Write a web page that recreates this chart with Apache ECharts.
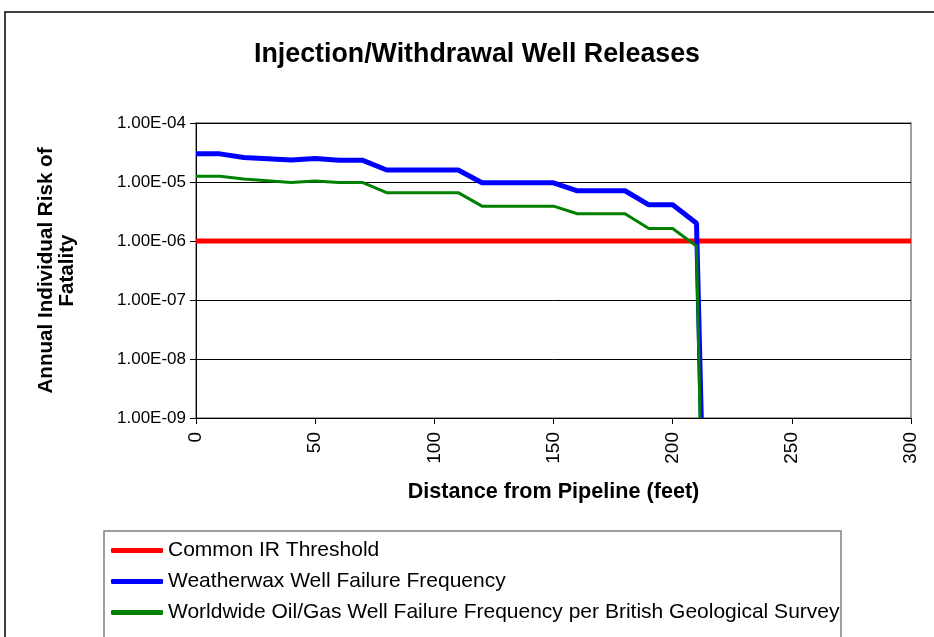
<!DOCTYPE html>
<html>
<head>
<meta charset="utf-8">
<script src="https://cdn.jsdelivr.net/npm/echarts@6/dist/echarts.min.js"></script>
<style>
  html, body { margin: 0; padding: 0; background: #fff; }
  #chart { width: 934px; height: 637px; }
</style>
</head>
<body>
<div id="chart"></div>
<script>
// series names
const seriesNames = [
  'Common IR Threshold',
  'Weatherwax Well Failure Frequency',
  'Worldwide Oil/Gas Well Failure Frequency per British Geological Survey'
];

// distance from pipeline (feet) and annual individual risk values
const thresholdDist = [0, 300];
const thresholdRisk = [1e-6, 1e-6];

const weatherwaxDist = [0, 10, 20, 40, 50, 60, 70, 80, 110, 120, 150, 160, 180, 190, 200, 210, 212];
const weatherwaxRisk = [3.0e-5, 3.0e-5, 2.6e-5, 2.35e-5, 2.5e-5, 2.33e-5, 2.33e-5, 1.6e-5, 1.6e-5,
  9.7e-6, 9.7e-6, 7.1e-6, 7.1e-6, 4.1e-6, 4.1e-6, 2.0e-6, 1e-9];

const worldwideDist = [0, 10, 20, 40, 50, 60, 70, 80, 110, 120, 150, 160, 180, 190, 200, 210, 211.5];
const worldwideRisk = [1.25e-5, 1.25e-5, 1.12e-5, 9.8e-6, 1.04e-5, 9.8e-6, 9.8e-6, 6.6e-6, 6.6e-6,
  3.9e-6, 3.9e-6, 2.9e-6, 2.9e-6, 1.63e-6, 1.63e-6, 8.2e-7, 1e-9];

const xTicks = [0, 50, 100, 150, 200, 250, 300];

const font = "'Liberation Sans', Arial, sans-serif";

const pairs = (xs, ys) => xs.map((x, i) => [x, ys[i]]);

const fmtExp = (v) => {
  const e = Math.round(Math.log10(v));
  const a = Math.abs(e);
  return '1.00E' + (e < 0 ? '-' : '+') + (a < 10 ? '0' + a : '' + a);
};

const chart = echarts.init(document.getElementById('chart'));

const option = {
  animation: false,
  backgroundColor: '#fff',
  title: {
    text: 'Injection/Withdrawal Well Releases',
    left: 254,
    top: 41,
    padding: 0,
    textStyle: { fontFamily: font, fontSize: 26.8, fontWeight: 'bold', color: '#000' }
  },
  graphic: [
    {
      type: 'rect',
      shape: { x: 5, y: 12, width: 960, height: 660 },
      style: { fill: 'none', stroke: '#000', lineWidth: 1.5 },
      silent: true
    },
    {
      type: 'rect',
      shape: { x: 104, y: 531, width: 737, height: 140 },
      style: { fill: 'none', stroke: '#808080', lineWidth: 1.5 },
      silent: true
    }
  ],
  legend: {
    orient: 'vertical',
    left: 111,
    top: 540,
    padding: 0,
    itemGap: 10,
    itemWidth: 52,
    itemHeight: 5,
    icon: 'roundRect',
    data: seriesNames,
    textStyle: { fontFamily: font, fontSize: 21, lineHeight: 21, color: '#000', padding: [0, 0, 0, 0] }
  },
  grid: {
    left: 196,
    right: 23,
    top: 123,
    bottom: 219,
    show: true,
    borderColor: '#808080',
    borderWidth: 1.5
  },
  xAxis: {
    type: 'value',
    min: xTicks[0],
    max: xTicks[xTicks.length - 1],
    interval: 50,
    name: 'Distance from Pipeline (feet)',
    nameLocation: 'middle',
    nameGap: 63,
    nameTextStyle: { fontFamily: font, fontSize: 21.6, fontWeight: 'bold', color: '#000' },
    axisLine: { lineStyle: { color: '#000', width: 1 } },
    axisTick: { show: true, length: 6, lineStyle: { color: '#000' } },
    axisLabel: { rotate: 90, margin: 14, fontFamily: font, fontSize: 19, color: '#000' },
    splitLine: { show: false }
  },
  yAxis: {
    type: 'log',
    logBase: 10,
    min: 1e-9,
    max: 1e-4,
    name: 'Annual Individual Risk of\nFatality',
    nameLocation: 'middle',
    nameRotate: 90,
    nameGap: 118,
    nameTextStyle: { fontFamily: font, fontSize: 20.6, fontWeight: 'bold', color: '#000', lineHeight: 21 },
    axisLine: { show: true, lineStyle: { color: '#000', width: 1 } },
    axisTick: { show: true, length: 6, lineStyle: { color: '#000' } },
    axisLabel: { formatter: fmtExp, margin: 10, fontFamily: font, fontSize: 17, color: '#000' },
    splitLine: { show: true, lineStyle: { color: '#000', width: 1 } }
  },
  series: [
    {
      name: seriesNames[0],
      type: 'line',
      data: pairs(thresholdDist, thresholdRisk),
      showSymbol: false,
      color: '#ff0000',
      lineStyle: { width: 5, color: '#ff0000' }
    },
    {
      name: seriesNames[1],
      type: 'line',
      data: pairs(weatherwaxDist, weatherwaxRisk),
      showSymbol: false,
      color: '#0000ff',
      lineStyle: { width: 5, color: '#0000ff' }
    },
    {
      name: seriesNames[2],
      type: 'line',
      data: pairs(worldwideDist, worldwideRisk),
      showSymbol: false,
      color: '#008000',
      lineStyle: { width: 3, color: '#008000' }
    }
  ]
};

chart.setOption(option);
</script>
</body>
</html>
